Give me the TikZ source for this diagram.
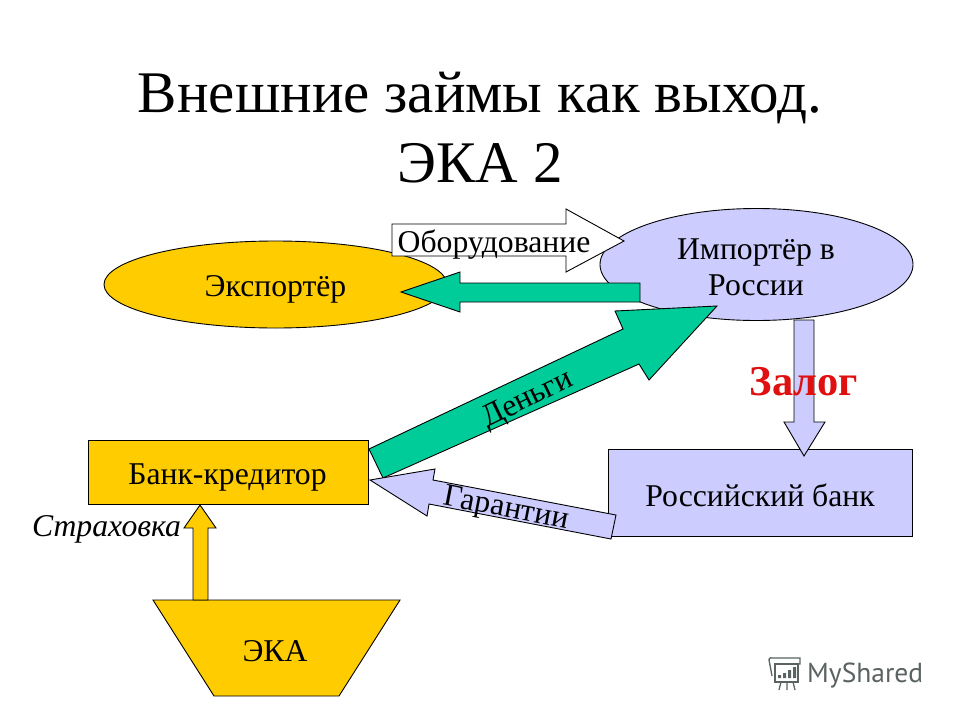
\documentclass[tikz,border=0pt]{standalone}
\usepackage{fontspec}
\setmainfont{Liberation Serif}
\newfontfamily\wmfont{PT Sans}
\definecolor{ppty}{HTML}{FFCC00}
\definecolor{pptg}{HTML}{00CC99}
\definecolor{pptl}{HTML}{CCCCFF}
\definecolor{wmgrey}{HTML}{5A6262}
\definecolor{pledgered}{HTML}{E01010}
\tikzset{
  x=1pt,y=-1pt,
  blockline/.style={draw=black,line width=0.9pt,line join=miter},
  yellowfill/.style={blockline,fill=ppty},
  greenfill/.style={blockline,fill=pptg},
  lilacfill/.style={blockline,fill=pptl},
  whitefill/.style={blockline,fill=white},
  lbl/.style={font=\fontsize{31.7}{36}\selectfont,inner sep=0pt,text=black,align=center},
  ttl/.style={font=\fontsize{59}{59}\selectfont,inner sep=0pt,text=black},
  wm/.style={draw=wmgrey,line width=1.3pt},
}
\begin{document}
\begin{tikzpicture}
\useasboundingbox (0,0) rectangle (960,720);
\fill[white] (0,0) rectangle (960,720);
\node[ttl] (title1) at (480,98) {Внешние займы как выход.};
\node[ttl] (title2) at (480,163) {ЭКА 2};
% shapes
\draw[yellowfill] (275.5,284.5) ellipse [x radius=171.5,y radius=43.5];
\draw[lilacfill] (756.5,264.5) ellipse [x radius=156.5,y radius=56];
\draw[lilacfill] (608,449) rectangle (912,536);
\draw[yellowfill] (88,440) rectangle (368,504);
\draw[yellowfill] (153,600) -- (400,600) -- (339,696) -- (214,696) -- cycle;
% block arrows
\draw[whitefill] (392,224) -- (566,224) -- (566,209) -- (624,241) -- (566,272) -- (566,256) -- (392,256) -- cycle;
\draw[greenfill] (401,292) -- (460,272) -- (460,283) -- (640,283) -- (640,302) -- (460,302) -- (460,312) -- cycle;
\draw[lilacfill] (794,320) -- (814,320) -- (814,422) -- (825,422) -- (804,456) -- (784,422) -- (794,422) -- cycle;
\draw[greenfill] (369,449) -- (623,329) -- (615,311) -- (717,306) -- (649,380) -- (639,364) -- (383,478) -- cycle;
\draw[lilacfill] (370,480) -- (435,469) -- (433,480) -- (616,515) -- (611,539) -- (429,504) -- (427,516) -- cycle;
\draw[yellowfill] (193,600) -- (193,528) -- (184,528) -- (200,505) -- (216,528) -- (208,528) -- (208,600) -- cycle;
% labels
\node[lbl] (exporter) at (275.5,289) {Экспортёр};
\node[lbl] (importer) at (756,267) {Импортёр в\\России};
\node[lbl] (equip) at (494,245) {Оборудование};
\node[lbl] (rubank) at (760,495) {Российский банк};
\node[lbl] (creditor) at (227.5,477) {Банк-кредитор};
\node[lbl] (eca) at (275,651) {ЭКА};
\node[lbl,font=\itshape\fontsize{31.7}{36}\selectfont] (insure) at (106.5,529) {Страховка};
\node[lbl,rotate=26] (money) at (528,400) {Деньги};
\node[lbl,rotate=-11] (guar) at (506,510) {Гарантии};
\node[font=\bfseries\fontsize{42.5}{42.5}\selectfont,text=pledgered,inner sep=0pt] (pledge) at (804,382) {Залог};
% watermark
\node[font=\wmfont\fontsize{27.5}{27.5}\selectfont,text=wmgrey,anchor=base west,inner sep=0pt] (wmtext) at (807,682) {MyShared};
\draw[wm] (775,664) rectangle (798,682);
\draw[wm] (772,676) -- (769,660) .. controls (769,657) and (772,658) .. (775,658) -- (800,658) -- (800,664) -- (775,664);
\draw[wm] (781,682) -- (779,690) (787,682) -- (787,690) (793,682) -- (795,690);
\fill[wmgrey] (778,675) rectangle (781,678) (783,673) rectangle (786,678) (788,670) rectangle (791,678) (793,667) rectangle (796,678);
\end{tikzpicture}
\end{document}
